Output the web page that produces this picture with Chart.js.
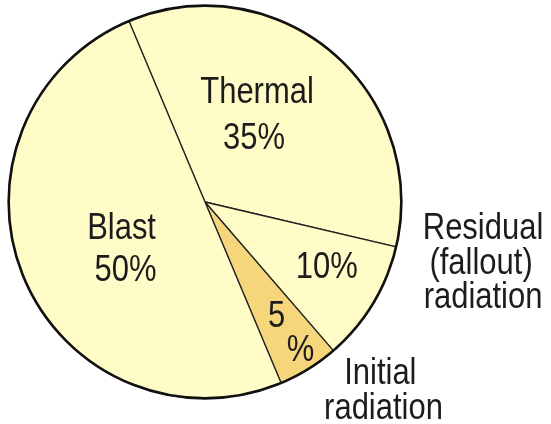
<!DOCTYPE html>
<html>
<head>
<meta charset="utf-8">
<script src="https://cdn.jsdelivr.net/npm/chart.js@4/dist/chart.umd.min.js"></script>
<style>
  body { margin: 0; background: #fff; }
</style>
</head>
<body>
<canvas id="pie-energi" width="551" height="424"></canvas>
<script>
const kategori = ['Thermal', 'Residual (fallout) radiation', 'Initial radiation', 'Blast'];
const nilai = [35, 10, 5, 50];
const warna = ['#FFFCC8', '#FFFCC8', '#F6D67A', '#FFFCC8'];

// teks di dalam dan di luar lingkaran (posisi relatif ke pusat, dalam satuan radius)
const labelTeks = [
  { text: 'Thermal', fx: 0.265, fy: -0.505 },
  { text: nilai[0] + '%', fx: 0.250, fy: -0.270 },
  { text: 'Blast', fx: -0.425, fy: 0.190 },
  { text: nilai[3] + '%', fx: -0.405, fy: 0.400 },
  { text: nilai[1] + '%', fx: 0.620, fy: 0.385 },
  { text: '5', fx: 0.365, fy: 0.635 },
  { text: '%', fx: 0.487, fy: 0.812 },
  { text: 'Residual', fx: 1.416, fy: 0.188 },
  { text: '(fallout)', fx: 1.406, fy: 0.365 },
  { text: 'radiation', fx: 1.416, fy: 0.538 },
  { text: 'Initial', fx: 0.893, fy: 0.929 },
  { text: 'radiation', fx: 0.909, fy: 1.107 },
];

const teksPlugin = {
  id: 'teksPlugin',
  afterDatasetsDraw(chart) {
    const ctx = chart.ctx;
    const arc = chart.getDatasetMeta(0).data[0];
    const cx = arc.x, cy = arc.y, r = arc.outerRadius;

    // garis luar yang lebih tebal
    ctx.save();
    ctx.beginPath();
    ctx.arc(cx, cy, r, 0, Math.PI * 2);
    ctx.lineWidth = 2.6;
    ctx.strokeStyle = '#111';
    ctx.stroke();
    ctx.restore();

    labelTeks.forEach(l => {
      ctx.save();
      ctx.translate(cx + l.fx * r, cy + l.fy * r);
      ctx.scale(0.86, 1);
      ctx.font = '36px "Liberation Sans", Arial, sans-serif';
      ctx.fillStyle = '#1c1c1c';
      ctx.textAlign = 'center';
      ctx.textBaseline = 'alphabetic';
      ctx.fillText(l.text, 0, 0);
      ctx.restore();
    });
  },
};

new Chart(document.getElementById('pie-energi'), {
  type: 'pie',
  data: {
    labels: kategori,
    datasets: [
      {
        data: nilai,
        backgroundColor: warna,
        borderColor: '#222',
        borderWidth: 1.3,
      },
    ],
  },
  options: {
    responsive: false,
    animation: false,
    devicePixelRatio: 1,
    rotation: -22.8,
    layout: {
      padding: { left: 8, right: 149, top: 5, bottom: 25 },
    },
    plugins: {
      legend: { display: false },
      tooltip: { enabled: false },
    },
  },
  plugins: [teksPlugin],
});
</script>
</body>
</html>
